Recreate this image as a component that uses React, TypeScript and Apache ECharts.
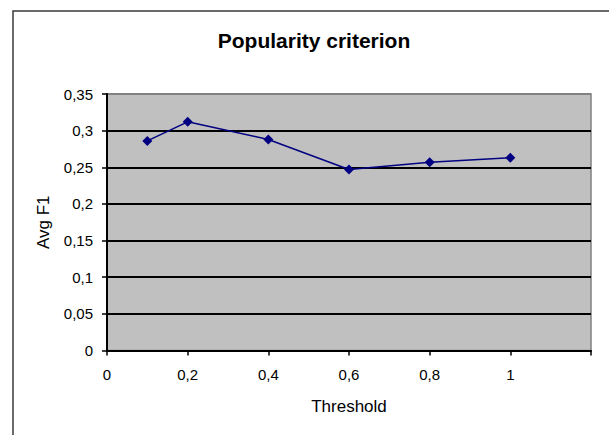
import React, { useEffect, useRef } from "react";
import * as echarts from "echarts";

const titleText = "Popularity criterion";
const xName = "Threshold";
const yName = "Avg F1";
const thresholds = [0.1, 0.2, 0.4, 0.6, 0.8, 1.0];
const avgF1 = [0.286, 0.312, 0.288, 0.247, 0.257, 0.263];
const xTickLabels = ["0", "0,2", "0,4", "0,6", "0,8", "1", ""];
const yTickLabels = ["0", "0,05", "0,1", "0,15", "0,2", "0,25", "0,3", "0,35"];

const FONT = "'Liberation Sans', Arial, sans-serif";

export default function App() {
  const ref = useRef<HTMLDivElement>(null);
  useEffect(() => {
    if (!ref.current) return;
    const chart = echarts.init(ref.current, null, { renderer: "svg" });
    chart.setOption({
      animation: false,
      backgroundColor: "#ffffff",
      textStyle: { fontFamily: FONT },
      graphic: [
        {
          type: "rect",
          z: -10,
          silent: true,
          shape: { x: 13, y: 11, width: 640, height: 460 },
          style: { fill: "none", stroke: "#3a3a3a", lineWidth: 1.5 },
        },
        {
          type: "text",
          x: 314,
          y: 40,
          style: {
            text: titleText,
            fontFamily: FONT,
            fontWeight: "bold",
            fontSize: 21,
            fill: "#000",
            textAlign: "center",
            textVerticalAlign: "middle",
          },
        },
      ],
      grid: {
        left: 107,
        right: 18,
        top: 94,
        bottom: 84.5,
        show: true,
        backgroundColor: "#c0c0c0",
        borderColor: "#808080",
        borderWidth: 1.5,
      },
      xAxis: {
        type: "value",
        min: 0,
        max: 1.2,
        interval: 0.2,
        name: xName,
        nameLocation: "middle",
        nameGap: 47,
        nameTextStyle: { fontFamily: FONT, fontSize: 17, color: "#000" },
        axisLine: { show: true, lineStyle: { color: "#000", width: 2 } },
        axisTick: { show: true, inside: false, length: 5, lineStyle: { color: "#000", width: 1.5 } },
        axisLabel: {
          margin: 16,
          fontFamily: FONT,
          fontSize: 15,
          color: "#000",
          formatter: (v: number) => xTickLabels[Math.round(v / 0.2)] ?? "",
        },
        splitLine: { show: false },
      },
      yAxis: {
        type: "value",
        min: 0,
        max: 0.35,
        interval: 0.05,
        name: yName,
        nameLocation: "middle",
        nameGap: 55,
        nameRotate: 90,
        nameTextStyle: { fontFamily: FONT, fontSize: 17, color: "#000" },
        axisLine: { show: true, lineStyle: { color: "#000", width: 2 } },
        axisTick: { show: true, inside: false, length: 5, lineStyle: { color: "#000", width: 1.5 } },
        axisLabel: {
          margin: 14,
          fontFamily: FONT,
          fontSize: 15,
          color: "#000",
          formatter: (v: number) => yTickLabels[Math.round(v / 0.05)] ?? "",
        },
        splitLine: {
          show: true,
          lineStyle: {
            color: ["#000", "#000", "#000", "#000", "#000", "#000", "#000", "#808080"],
            width: 2,
          },
        },
      },
      series: [
        {
          type: "line",
          data: thresholds.map((t, i) => [t, avgF1[i]]),
          symbol: "diamond",
          symbolSize: 10,
          showSymbol: true,
          lineStyle: { color: "#000080", width: 1.5 },
          itemStyle: { color: "#000080" },
          z: 5,
        },
      ],
    });
    return () => chart.dispose();
  }, []);
  return (
    <div
      ref={ref}
      style={{ position: "absolute", left: 0, top: 0, width: 609, height: 435 }}
    />
  );
}
